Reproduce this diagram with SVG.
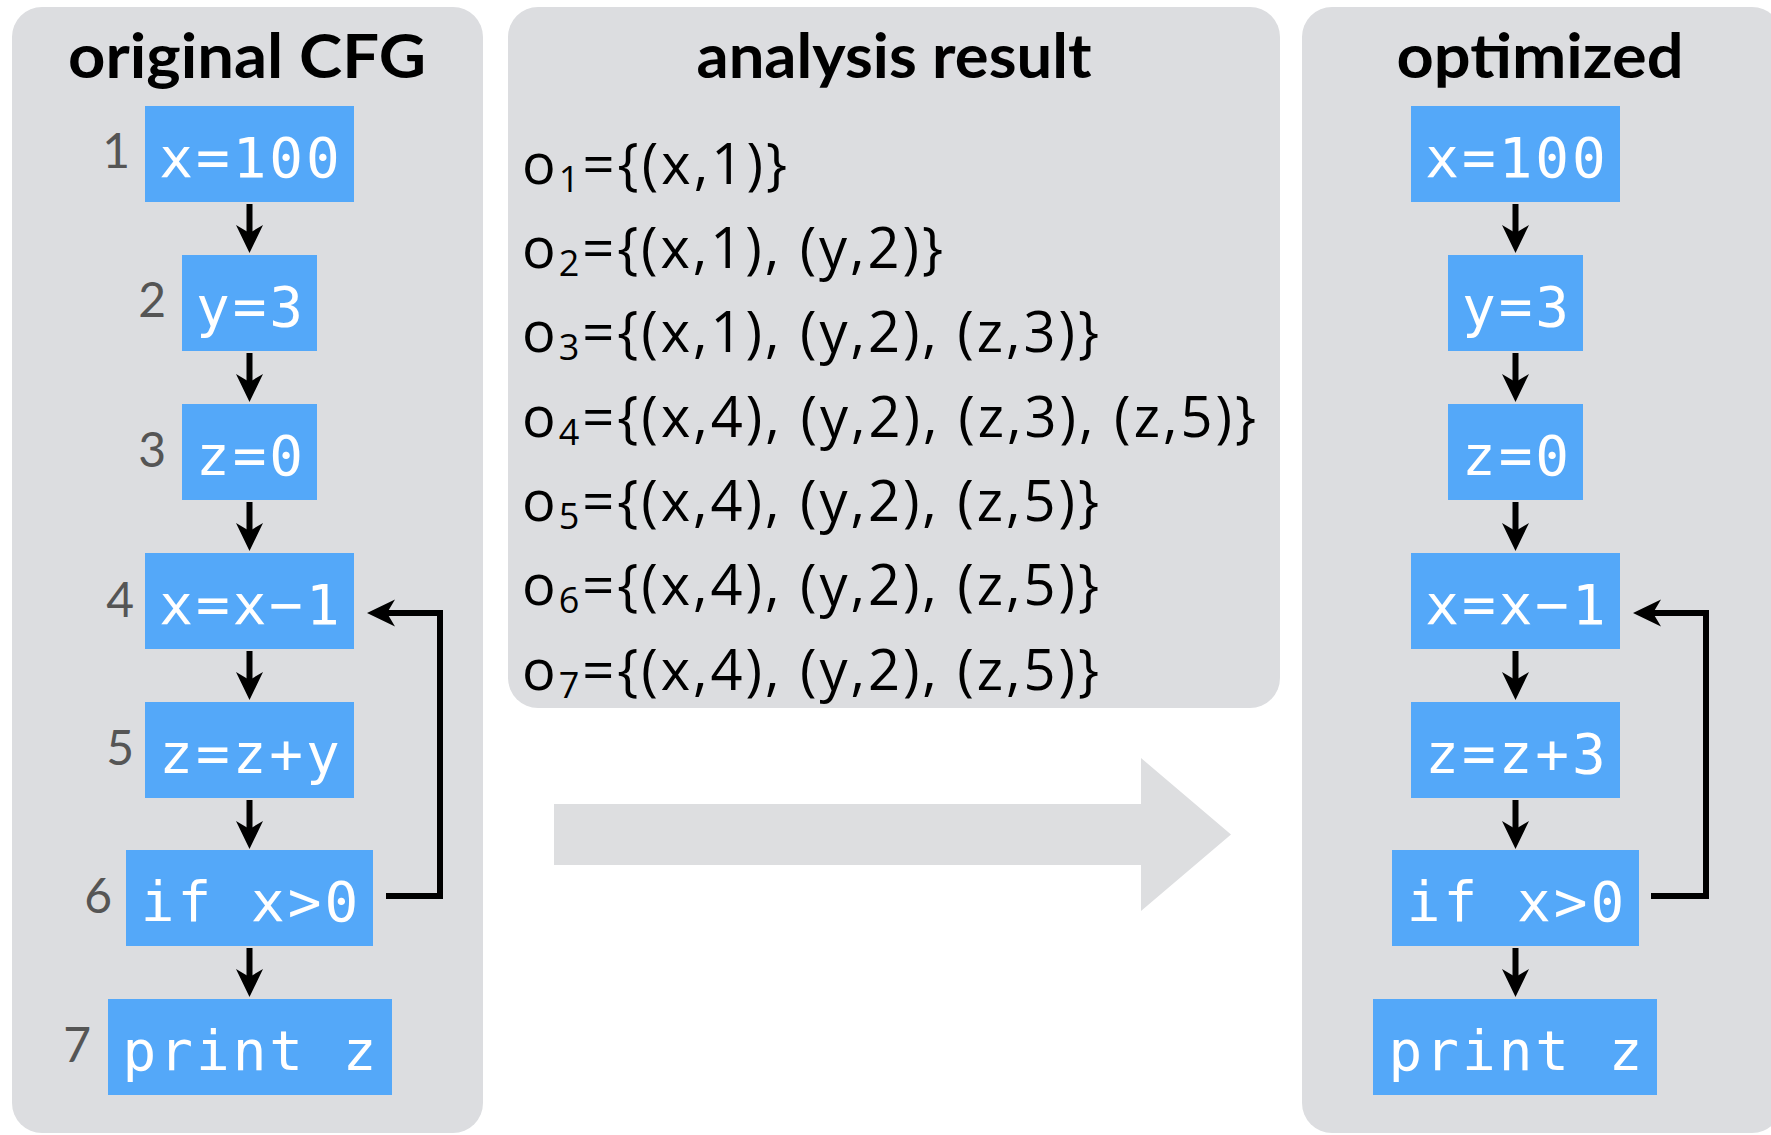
<svg xmlns="http://www.w3.org/2000/svg" width="1771" height="1135" viewBox="0 0 1771 1135">
<style>
.panel{fill:#dcdde0}
.box{fill:#54a8f9}
.code{font-family:"DejaVu Sans Mono",monospace;font-size:56px;fill:#fff;text-anchor:middle;letter-spacing:3px}
.num{font-family:Lato,"Liberation Sans",sans-serif;font-size:48px;fill:#555;text-anchor:end}
.title{font-family:Lato,"Liberation Sans",sans-serif;font-weight:700;font-size:62px;fill:#000;text-anchor:middle}
.eq{font-family:"Open Sans","Liberation Sans",sans-serif;font-size:56px;fill:#000}
.sub{font-size:36px}
.edge{fill:none;stroke:#000;stroke-width:6;marker-end:url(#ah)}
</style>
<defs>
<marker id="ah" viewBox="0 0 28 28" markerUnits="userSpaceOnUse" markerWidth="28" markerHeight="28" refX="8" refY="14" orient="auto">
<path d="M0,0.5 L28,14 L0,27.5 L8,14 Z" fill="#000"/>
</marker>
</defs>

<g id="panel-original">
<rect class="panel" x="12" y="7" width="471" height="1126" rx="30"/>
<text class="title" x="247" y="78" textLength="358" lengthAdjust="spacingAndGlyphs">original CFG</text>
</g>
<g id="panel-analysis">
<rect class="panel" x="508" y="7" width="772" height="701" rx="30"/>
<text class="title" x="894" y="78" textLength="395" lengthAdjust="spacingAndGlyphs">analysis result</text>
</g>
<g id="panel-optimized">
<rect class="panel" x="1302" y="7" width="480" height="1126" rx="30"/>
<text class="title" x="1540" y="78" textLength="287" lengthAdjust="spacingAndGlyphs">optimized</text>
</g>

<g id="analysis-results">
<text class="eq" x="522" y="184" textLength="265" lengthAdjust="spacing">o<tspan class="sub" dy="8">1</tspan><tspan dy="-8">={(x,1)}</tspan></text>
<text class="eq" x="522" y="268" textLength="421" lengthAdjust="spacing">o<tspan class="sub" dy="8">2</tspan><tspan dy="-8">={(x,1), (y,2)}</tspan></text>
<text class="eq" x="522" y="352" textLength="577" lengthAdjust="spacing">o<tspan class="sub" dy="8">3</tspan><tspan dy="-8">={(x,1), (y,2), (z,3)}</tspan></text>
<text class="eq" x="522" y="437" textLength="734" lengthAdjust="spacing">o<tspan class="sub" dy="8">4</tspan><tspan dy="-8">={(x,4), (y,2), (z,3), (z,5)}</tspan></text>
<text class="eq" x="522" y="521" textLength="577" lengthAdjust="spacing">o<tspan class="sub" dy="8">5</tspan><tspan dy="-8">={(x,4), (y,2), (z,5)}</tspan></text>
<text class="eq" x="522" y="605" textLength="577" lengthAdjust="spacing">o<tspan class="sub" dy="8">6</tspan><tspan dy="-8">={(x,4), (y,2), (z,5)}</tspan></text>
<text class="eq" x="522" y="690" textLength="577" lengthAdjust="spacing">o<tspan class="sub" dy="8">7</tspan><tspan dy="-8">={(x,4), (y,2), (z,5)}</tspan></text>
</g>

<g id="transform-arrow">
<path d="M554,804 H1141 V758 L1231,834.5 L1141,911 V865 H554 Z" fill="#dddee0"/>
</g>

<!-- original CFG nodes -->
<g id="n1"><rect class="box" x="145" y="106" width="209" height="96"/><text class="num" x="130" y="168">1</text><text class="code" x="251" y="177">x=100</text></g>
<g id="n2"><rect class="box" x="182" y="255" width="135" height="96"/><text class="num" x="166" y="317">2</text><text class="code" x="251" y="326">y=3</text></g>
<g id="n3"><rect class="box" x="182" y="404" width="135" height="96"/><text class="num" x="166" y="467">3</text><text class="code" x="251" y="475">z=0</text></g>
<g id="n4"><rect class="box" x="145" y="553" width="209" height="96"/><text class="num" x="134" y="617">4</text><text class="code" x="251" y="624">x=x−1</text></g>
<g id="n5"><rect class="box" x="145" y="702" width="209" height="96"/><text class="num" x="134" y="765">5</text><text class="code" x="251" y="773">z=z+y</text></g>
<g id="n6"><rect class="box" x="126" y="850" width="247" height="96"/><text class="num" x="112" y="913">6</text><text class="code" x="251" y="921">if x&gt;0</text></g>
<g id="n7"><rect class="box" x="108" y="999" width="284" height="96"/><text class="num" x="91" y="1062">7</text><text class="code" x="251" y="1070">print z</text></g>

<!-- optimized nodes -->
<g id="m1"><rect class="box" x="1411" y="106" width="209" height="96"/><text class="code" x="1517" y="177">x=100</text></g>
<g id="m2"><rect class="box" x="1448" y="255" width="135" height="96"/><text class="code" x="1517" y="326">y=3</text></g>
<g id="m3"><rect class="box" x="1448" y="404" width="135" height="96"/><text class="code" x="1517" y="475">z=0</text></g>
<g id="m4"><rect class="box" x="1411" y="553" width="209" height="96"/><text class="code" x="1517" y="624">x=x−1</text></g>
<g id="m5"><rect class="box" x="1411" y="702" width="209" height="96"/><text class="code" x="1517" y="773">z=z+3</text></g>
<g id="m6"><rect class="box" x="1392" y="850" width="247" height="96"/><text class="code" x="1517" y="921">if x&gt;0</text></g>
<g id="m7"><rect class="box" x="1373" y="999" width="284" height="96"/><text class="code" x="1517" y="1070">print z</text></g>

<g id="connectors">
<path class="edge" d="M249.5,204 V233"/>
<path class="edge" d="M249.5,353 V382"/>
<path class="edge" d="M249.5,502 V531"/>
<path class="edge" d="M249.5,651 V680"/>
<path class="edge" d="M249.5,800 V829"/>
<path class="edge" d="M249.5,948 V977"/>
<path class="edge" d="M386,896 H440 V613 H387"/>
<path class="edge" d="M1515.5,204 V233"/>
<path class="edge" d="M1515.5,353 V382"/>
<path class="edge" d="M1515.5,502 V531"/>
<path class="edge" d="M1515.5,651 V680"/>
<path class="edge" d="M1515.5,800 V829"/>
<path class="edge" d="M1515.5,948 V977"/>
<path class="edge" d="M1651,896 H1706 V613 H1653"/>
</g>
</svg>
